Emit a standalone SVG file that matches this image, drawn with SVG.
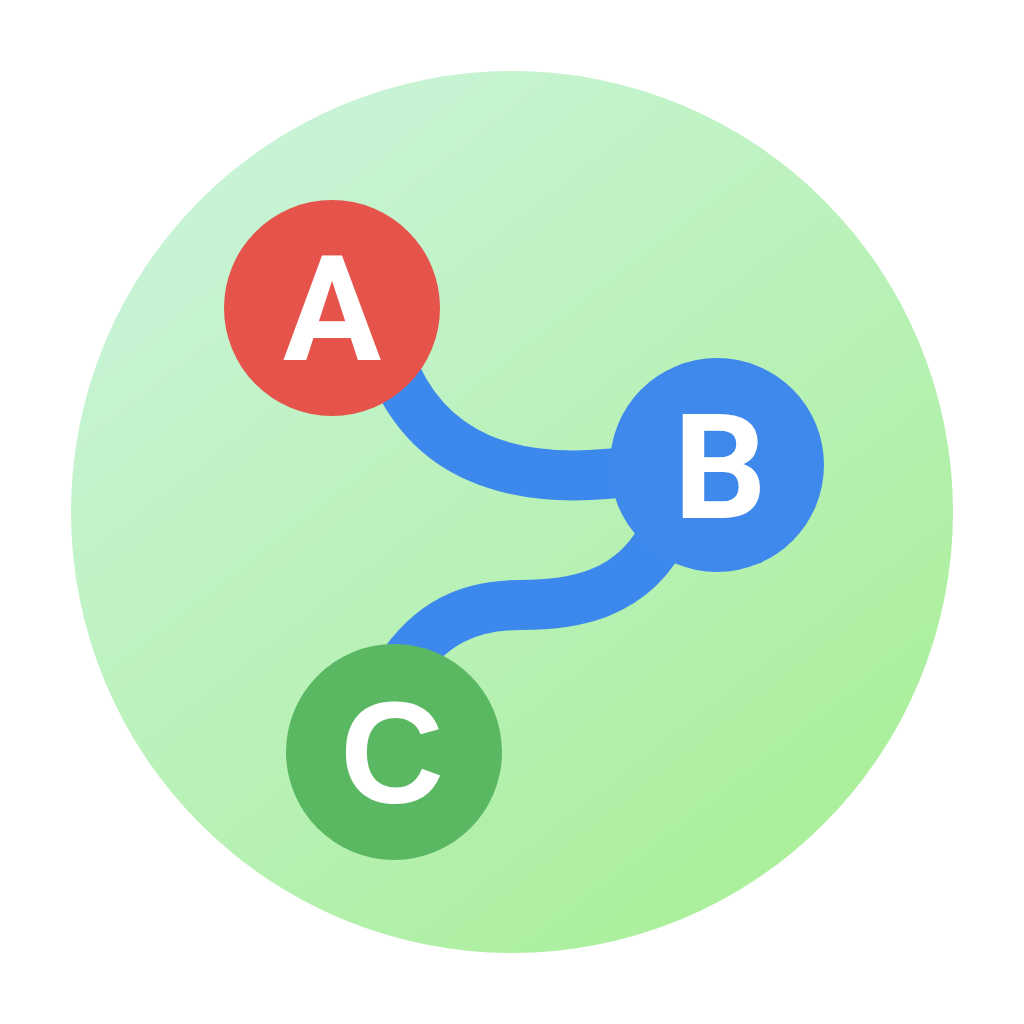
<svg xmlns="http://www.w3.org/2000/svg" width="1024" height="1024" viewBox="0 0 1024 1024">
<defs>
<linearGradient id="bg" x1="0.15" y1="0.05" x2="0.85" y2="0.95">
<stop offset="0" stop-color="#caf4da"/>
<stop offset="1" stop-color="#a9ef98"/>
</linearGradient>
<style>
.edge{fill:none;stroke:#3d88ec;stroke-width:50;stroke-linecap:butt}
.lbl{font-family:Roboto,"Liberation Sans","DejaVu Sans",sans-serif;font-weight:bold;font-size:146px;fill:#ffffff;text-anchor:middle}
.wide{font-family:"Liberation Sans","DejaVu Sans",sans-serif;font-size:144px}
</style>
</defs>
<rect width="1024" height="1024" fill="#ffffff"/>
<circle cx="512" cy="512" r="441" fill="url(#bg)"/>
<g id="connectors">
<path class="edge" d="M 390 360 C 425 455, 510 490, 640 470"/>
<path class="edge" d="M 668 525 C 635 600, 565 605, 520 605 C 470 605, 430 622, 398 672"/>
</g>
<g id="node-A">
<circle cx="332" cy="308" r="108" fill="#e5534b"/>
<text class="lbl" x="332" y="360">A</text>
</g>
<g id="node-B">
<circle cx="717" cy="465" r="107" fill="#3f88ec"/>
<text class="lbl" x="720" y="518">B</text>
</g>
<g id="node-C">
<circle cx="394" cy="752" r="108" fill="#5bb862"/>
<text class="lbl wide" x="392" y="803">C</text>
</g>
</svg>
